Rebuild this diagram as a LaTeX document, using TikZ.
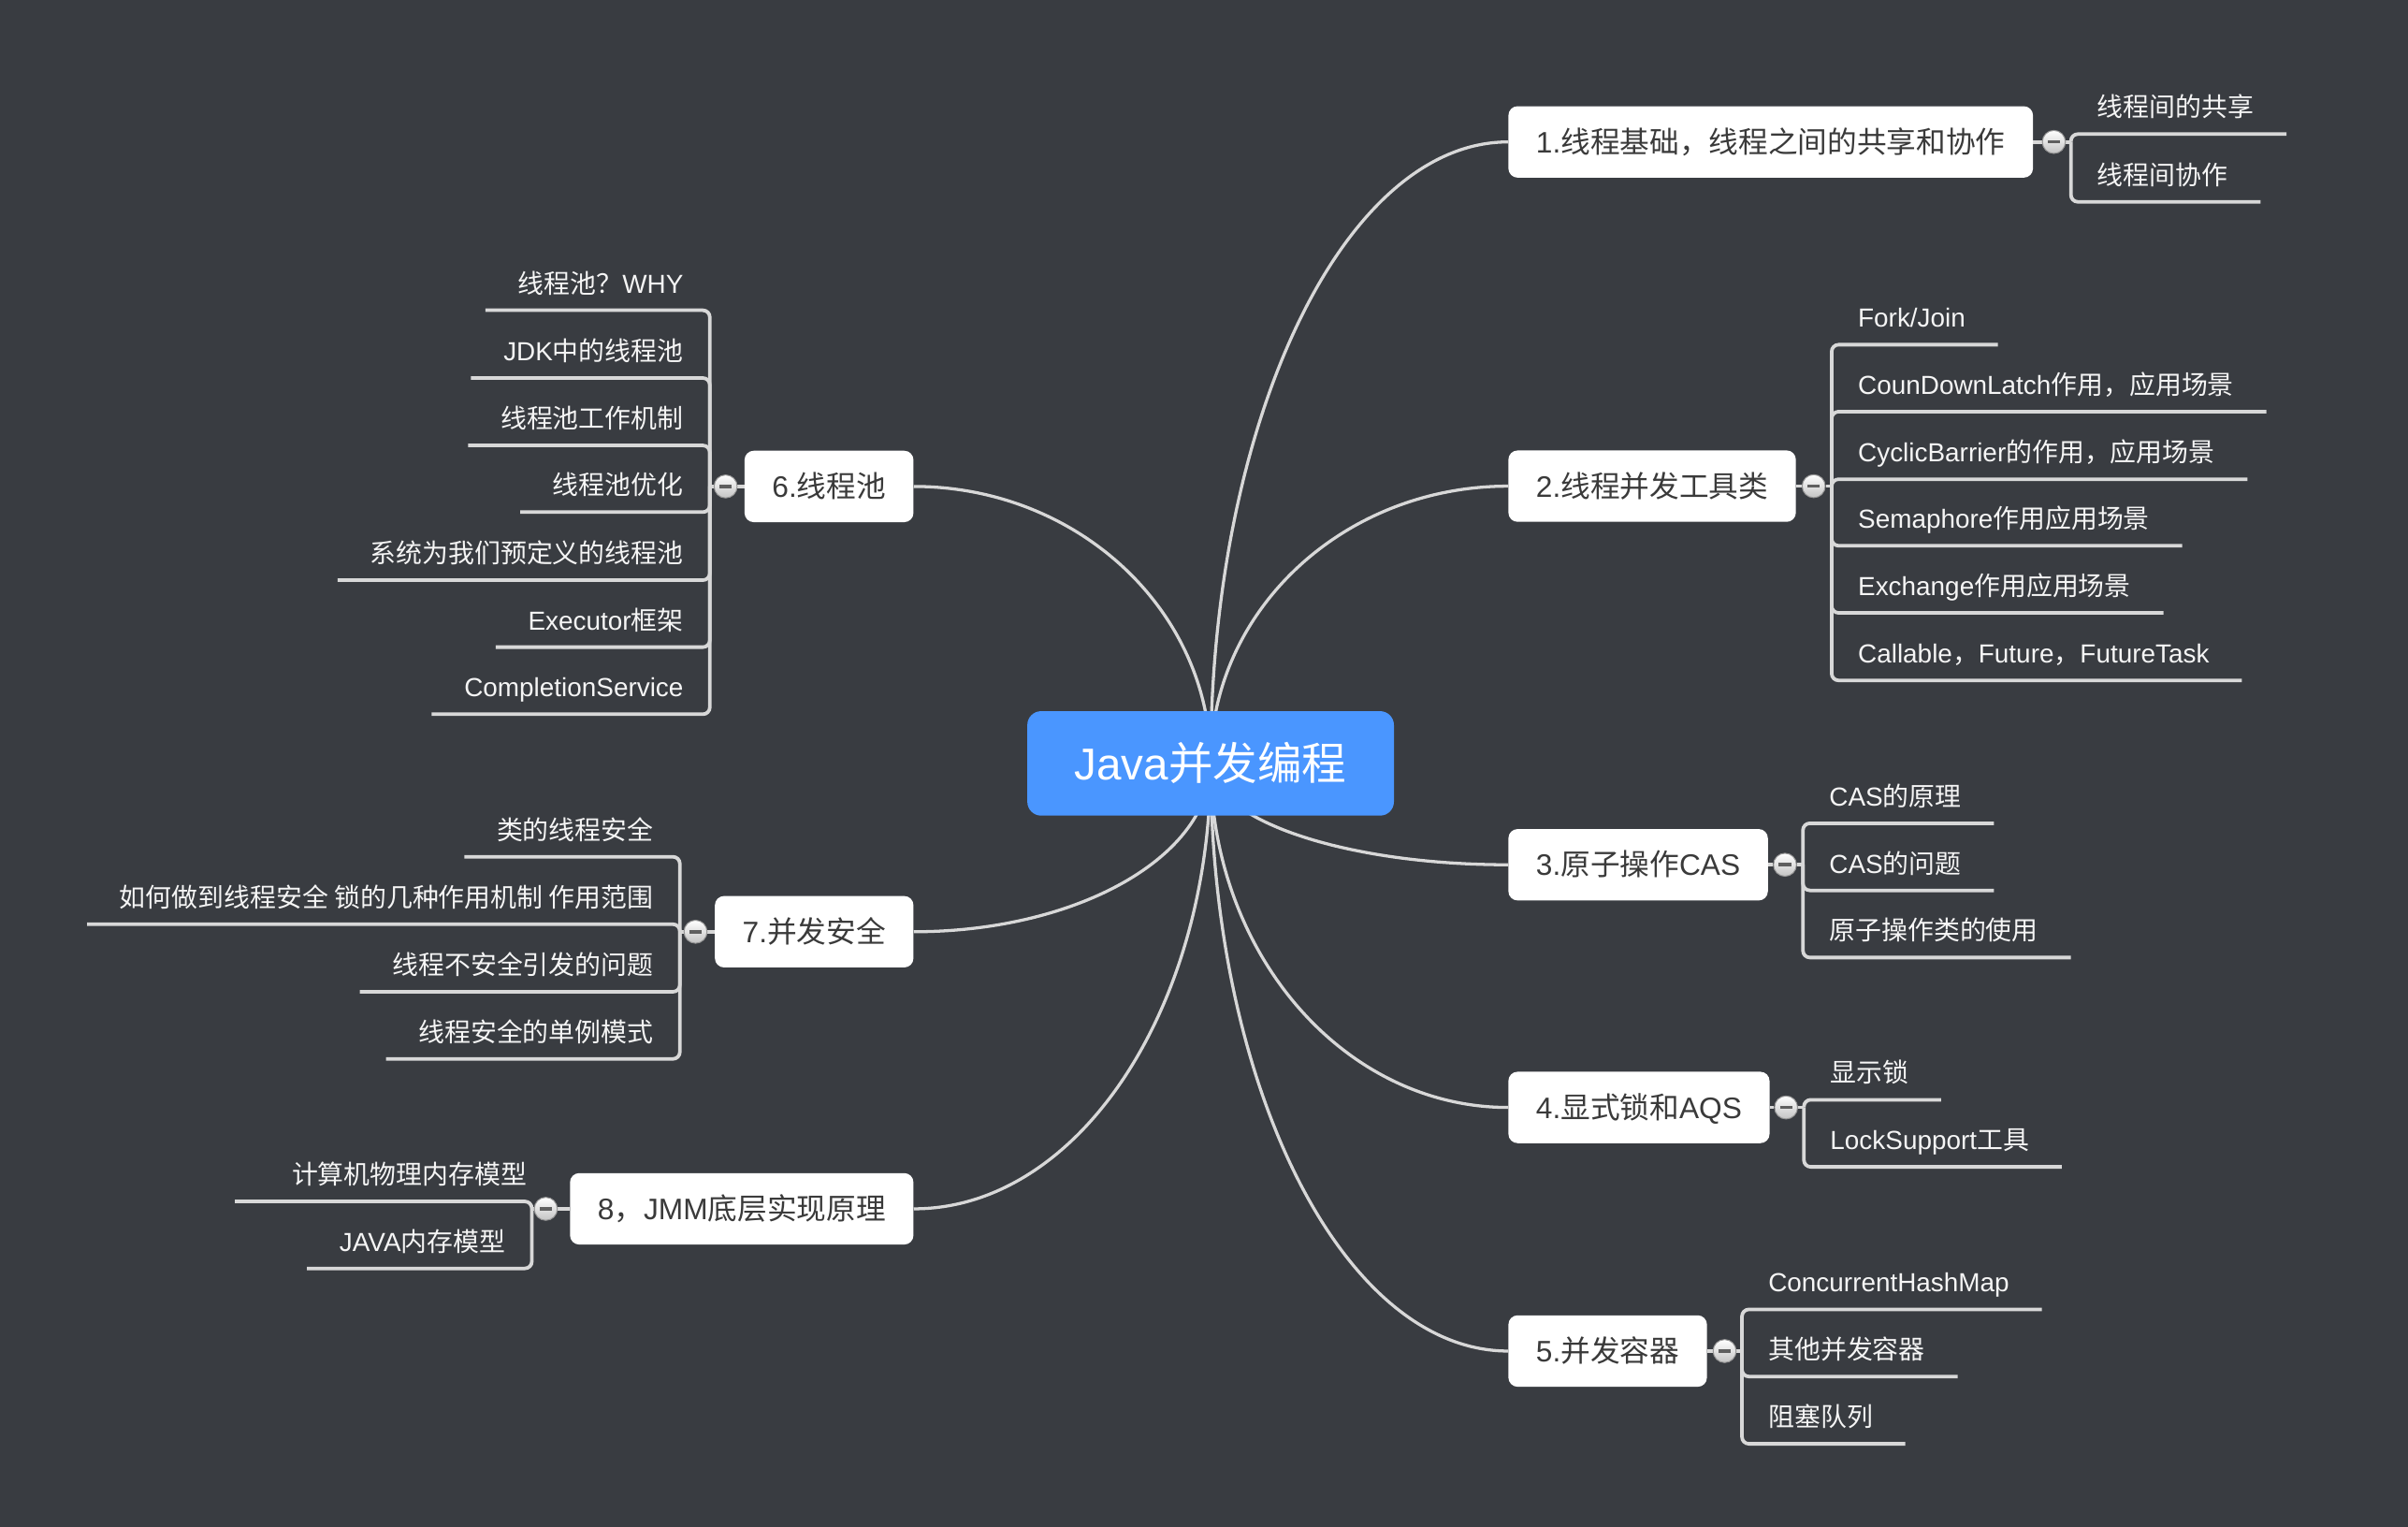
\documentclass[tikz,border=0pt]{standalone}
\usepackage{fontspec}
\setmainfont{Liberation Sans}
\newfontfamily\zhfont{Noto Sans CJK SC}
\newcommand\zh[1]{{\zhfont #1}}
\usetikzlibrary{calc}
\definecolor{bgc}{RGB}{57,60,65}
\definecolor{rootc}{RGB}{74,150,255}
\definecolor{linec}{RGB}{216,216,216}
\definecolor{topicc}{RGB}{58,58,58}
\definecolor{leafc}{RGB}{245,245,245}
\definecolor{knobrim}{RGB}{150,150,150}
\definecolor{knobbot}{RGB}{195,195,195}
\definecolor{minusc}{RGB}{95,95,95}
\pgfdeclarelayer{bglayer}
\pgfdeclarelayer{edgelayer}
\pgfsetlayers{bglayer,edgelayer,main}
\tikzset{
  rootbox/.style={fill=rootc, rounded corners=9pt, minimum width=238.7pt, minimum height=68pt,
    inner sep=0pt, text=white, font=\fontsize{29pt}{33pt}\selectfont, text height=22pt, text depth=1pt},
  topicbox/.style={fill=white, rounded corners=6pt, minimum height=46.5pt, inner xsep=18pt,
    inner ysep=0pt, text=topicc, font=\fontsize{19.3pt}{23pt}\selectfont, text height=15pt, text depth=0.8pt},
  knob/.style={circle, minimum size=15pt, inner sep=0pt, draw=knobrim, line width=0.6pt,
    top color=white, bottom color=knobbot,
    path picture={\draw[minusc, line width=2.2pt]
      ([xshift=-4pt]path picture bounding box.center) -- ([xshift=4pt]path picture bounding box.center);}},
  leafbase/.style={inner xsep=0pt, inner ysep=9.1pt, text=leafc,
    font=\fontsize{17pt}{20pt}\selectfont, text height=15pt, text depth=2pt},
  rleaf/.style={leafbase, anchor=south west,
    execute at begin node={\hspace*{17pt}}, execute at end node={\hspace*{21pt}}},
  lleaf/.style={leafbase, anchor=south east,
    execute at begin node={\hspace*{21pt}}, execute at end node={\hspace*{17pt}}},
  lleafshift/.style={leafbase, anchor=south east,
    execute at begin node={\hspace*{37pt}}, execute at end node={\hspace*{3pt}}},
  branch/.style={draw=linec, line width=2pt},
  bracket/.style={draw=linec, line width=2.3pt, rounded corners=4.5pt},
}
\newcommand\branchto[1]{\draw[branch] (root.center) .. controls ($(root.center)!0.5523!(root.center |- #1)$) and ($(#1)!0.5523!(root.center |- #1)$) .. (#1);}
\begin{document}
\begin{tikzpicture}[x=1pt,y=-1pt]
\useasboundingbox (0,0) rectangle (1568,994);
\begin{pgfonlayer}{bglayer}
  \fill[bgc] (0,0) rectangle (1568,994);
\end{pgfonlayer}

% root
\node[rootbox] (root) at (788.3,497) {Java\zh{并发编程}};

% main topics
\node[topicbox, anchor=west] (n1) at (982,92.4) {1.\zh{线程基础，线程之间的共享和协作}};
\node[topicbox, anchor=west] (n2) at (982,316.5) {2.\zh{线程并发工具类}};
\node[topicbox, anchor=west] (n3) at (982,563) {3.\zh{原子操作}CAS};
\node[topicbox, anchor=west] (n4) at (982,721) {4.\zh{显式锁和}AQS};
\node[topicbox, anchor=west] (n5) at (982,879.6) {5.\zh{并发容器}};
\node[topicbox, anchor=east] (n6) at (595,316.7) {6.\zh{线程池}};
\node[topicbox, anchor=east] (n7) at (595,606.6) {7.\zh{并发安全}};
\node[topicbox, anchor=east] (n8) at (595,787) {8\zh{，}JMM\zh{底层实现原理}};

% knobs and junctions
\node[knob] (k1) at (1337.4,92.4) {};
\node[knob] (k2) at (1181,316.5) {};
\node[knob] (k3) at (1162.3,563) {};
\node[knob] (k4) at (1163,721) {};
\node[knob] (k5) at (1123,879.6) {};
\node[knob] (k6) at (472.5,316.7) {};
\node[knob] (k7) at (452.9,606.6) {};
\node[knob] (k8) at (355.4,787) {};
\coordinate (j1) at (1348.5,92.4);
\coordinate (j2) at (1192.7,316.5);
\coordinate (j3) at (1174,563);
\coordinate (j4) at (1174.6,721);
\coordinate (j5) at (1134.3,879.6);
\coordinate (j6) at (462.2,316.7);
\coordinate (j7) at (442.7,606.6);
\coordinate (j8) at (346.3,787);

% leaves: topic 1
\node[rleaf] (c11) at (1348.5,87.3) {\zh{线程间的共享}};
\node[rleaf] (c12) at (1348.5,131.4) {\zh{线程间协作}};
% topic 2
\node[rleaf] (c21) at (1192.7,224.4) {Fork/Join};
\node[rleaf] (c22) at (1192.7,268) {CounDownLatch\zh{作用，应用场景}};
\node[rleaf] (c23) at (1192.7,312) {CyclicBarrier\zh{的作用，应用场景}};
\node[rleaf] (c24) at (1192.7,355.3) {Semaphore\zh{作用应用场景}};
\node[rleaf] (c25) at (1192.7,399) {Exchange\zh{作用应用场景}};
\node[rleaf] (c26) at (1192.7,443) {Callable\zh{，}Future\zh{，}FutureTask};
% topic 3
\node[rleaf] (c31) at (1174,536) {CAS\zh{的原理}};
\node[rleaf] (c32) at (1174,579.7) {CAS\zh{的问题}};
\node[rleaf] (c33) at (1174,623.4) {\zh{原子操作类的使用}};
% topic 4
\node[rleaf] (c41) at (1174.6,716) {\zh{显示锁}};
\node[rleaf] (c42) at (1174.6,759.7) {LockSupport\zh{工具}};
% topic 5
\node[rleaf] (c51) at (1134.3,852.5) {ConcurrentHashMap};
\node[rleaf] (c52) at (1134.3,896.2) {\zh{其他并发容器}};
\node[rleaf] (c53) at (1134.3,940) {\zh{阻塞队列}};
% topic 6
\node[lleaf] (c61) at (462.2,202) {\zh{线程池？}WHY};
\node[lleaf] (c62) at (462.2,246.1) {JDK\zh{中的线程池}};
\node[lleaf] (c63) at (462.2,290) {\zh{线程池工作机制}};
\node[lleaf] (c64) at (462.2,333.4) {\zh{线程池优化}};
\node[lleaf] (c65) at (462.2,377.7) {\zh{系统为我们预定义的线程池}};
\node[lleaf] (c66) at (462.2,421.3) {Executor\zh{框架}};
\node[lleaf] (c67) at (462.2,465) {CompletionService};
% topic 7
\node[lleaf] (c71) at (442.7,557.8) {\zh{类的线程安全}};
\node[lleaf] (c72) at (442.7,601.7) {\zh{如何做到线程安全 锁的几种作用机制 作用范围}};
\node[lleaf] (c73) at (442.7,645.7) {\zh{线程不安全引发的问题}};
\node[lleaf] (c74) at (442.7,689.4) {\zh{线程安全的单例模式}};
% topic 8
\node[lleafshift] (c81) at (346.3,782.2) {\zh{计算机物理内存模型}};
\node[lleaf] (c82) at (346.3,825.8) {JAVA\zh{内存模型}};

\begin{pgfonlayer}{edgelayer}
  \branchto{n1.west}
  \branchto{n2.west}
  \branchto{n3.west}
  \branchto{n4.west}
  \branchto{n5.west}
  \branchto{n6.east}
  \branchto{n7.east}
  \branchto{n8.east}
  \foreach \t in {1,...,8}{
    \draw[bracket] (n\t) -- (k\t);
    \draw[bracket] (k\t) -- (j\t);
  }
  \foreach \c in {11,12}{\draw[bracket] (j1) |- (c\c.south east);}
  \foreach \c in {21,...,26}{\draw[bracket] (j2) |- (c\c.south east);}
  \foreach \c in {31,32,33}{\draw[bracket] (j3) |- (c\c.south east);}
  \foreach \c in {41,42}{\draw[bracket] (j4) |- (c\c.south east);}
  \foreach \c in {51,52,53}{\draw[bracket] (j5) |- (c\c.south east);}
  \foreach \c in {61,...,67}{\draw[bracket] (j6) |- (c\c.south west);}
  \foreach \c in {71,...,74}{\draw[bracket] (j7) |- (c\c.south west);}
  \foreach \c in {81,82}{\draw[bracket] (j8) |- (c\c.south west);}
\end{pgfonlayer}
\end{tikzpicture}
\end{document}
